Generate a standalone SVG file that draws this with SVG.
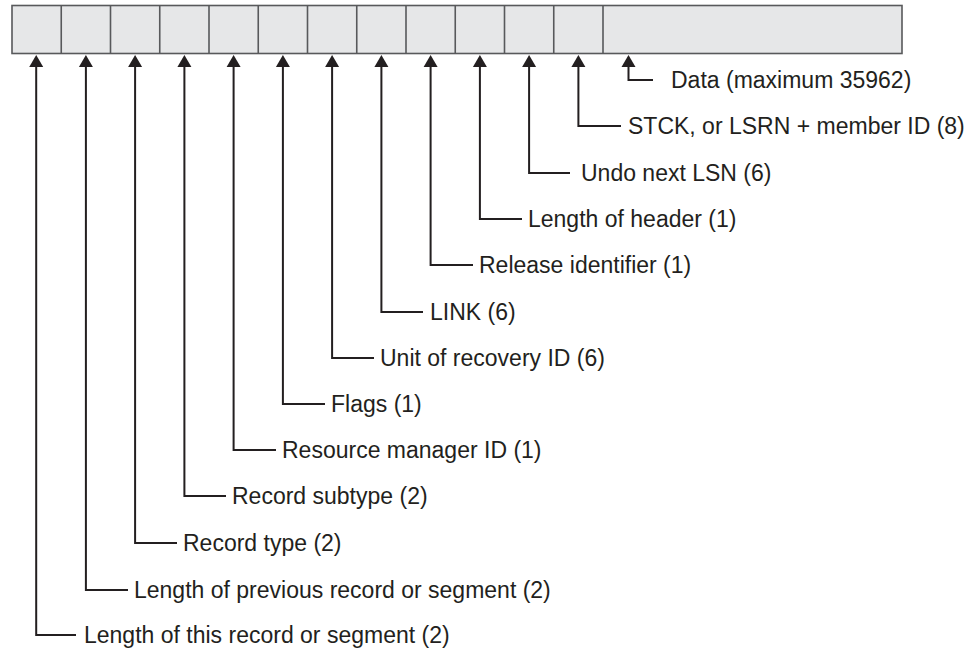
<svg xmlns="http://www.w3.org/2000/svg" width="975" height="649" viewBox="0 0 975 649">
<defs>
<style>
.cell{fill:#e6e7e8;stroke:#58595b;stroke-width:1.6}
.div{stroke:#58595b;stroke-width:1.6}
.c{fill:none;stroke:#231f20;stroke-width:2}
.ah{fill:#231f20;stroke:none}
.lbl{font-family:"Liberation Sans",Arial,Helvetica,sans-serif;font-size:23px;fill:#231f20}
</style>
<path id="head" class="ah" d="M0,0 L7,12 L-7,12 Z"/>
</defs>
<rect width="975" height="649" fill="#ffffff"/>
<g id="record">
<rect class="cell" x="12" y="5.5" width="890" height="48"/>
<path class="div" d="M61.25,5.5V53.5 M110.5,5.5V53.5 M159.75,5.5V53.5 M209,5.5V53.5 M258.25,5.5V53.5 M307.5,5.5V53.5 M356.75,5.5V53.5 M406,5.5V53.5 M455.25,5.5V53.5 M504.5,5.5V53.5 M553.75,5.5V53.5 M603,5.5V53.5"/>
</g>
<g id="connectors">
<path class="c" d="M653,80H628.5V64"/>
<path class="c" d="M621,126H578.4V64"/>
<path class="c" d="M570,173H529.1V64"/>
<path class="c" d="M522,219H479.9V64"/>
<path class="c" d="M473,265H430.6V64"/>
<path class="c" d="M423,312H381.4V64"/>
<path class="c" d="M374,358H332.1V64"/>
<path class="c" d="M325,404H282.9V64"/>
<path class="c" d="M276,450H233.6V64"/>
<path class="c" d="M226,496H184.4V64"/>
<path class="c" d="M177,543H135.1V64"/>
<path class="c" d="M128,590H85.9V64"/>
<path class="c" d="M76,635H36.2V64"/>
<use href="#head" x="628.5" y="55"/>
<use href="#head" x="578.4" y="55"/>
<use href="#head" x="529.1" y="55"/>
<use href="#head" x="479.9" y="55"/>
<use href="#head" x="430.6" y="55"/>
<use href="#head" x="381.4" y="55"/>
<use href="#head" x="332.1" y="55"/>
<use href="#head" x="282.9" y="55"/>
<use href="#head" x="233.6" y="55"/>
<use href="#head" x="184.4" y="55"/>
<use href="#head" x="135.1" y="55"/>
<use href="#head" x="85.9" y="55"/>
<use href="#head" x="36.2" y="55"/>
</g>
<g id="labels">
<text id="l-data" class="lbl" x="671" y="88">Data (maximum 35962)</text>
<text id="l-stck" class="lbl" x="628" y="134">STCK, or LSRN + member ID (8)</text>
<text id="l-undo" class="lbl" x="581" y="181">Undo next LSN (6)</text>
<text id="l-hdr" class="lbl" x="528" y="227">Length of header (1)</text>
<text id="l-rel" class="lbl" x="479" y="273">Release identifier (1)</text>
<text id="l-link" class="lbl" x="430" y="320">LINK (6)</text>
<text id="l-ur" class="lbl" x="380" y="366">Unit of recovery ID (6)</text>
<text id="l-flags" class="lbl" x="331" y="412">Flags (1)</text>
<text id="l-rm" class="lbl" x="282" y="458">Resource manager ID (1)</text>
<text id="l-sub" class="lbl" x="232" y="504">Record subtype (2)</text>
<text id="l-type" class="lbl" x="183" y="551">Record type (2)</text>
<text id="l-prev" class="lbl" x="134" y="598">Length of previous record or segment (2)</text>
<text id="l-this" class="lbl" x="84" y="643">Length of this record or segment (2)</text>
</g>
</svg>
